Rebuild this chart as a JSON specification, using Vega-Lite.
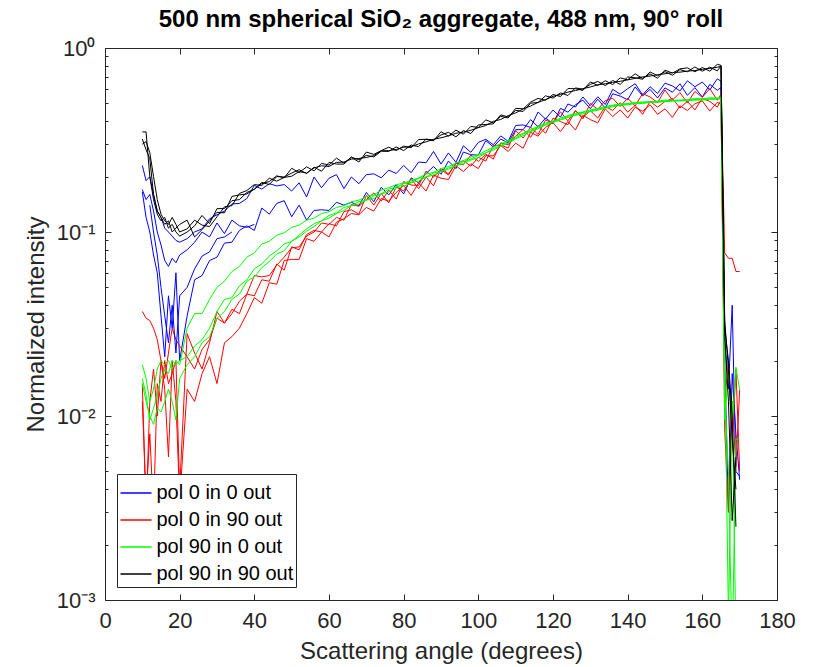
{
  "$schema": "https://vega.github.io/schema/vega-lite/v6.json",
  "width": 672,
  "height": 552,
  "autosize": {"type": "none"},
  "padding": {"left": 105, "top": 48, "right": 36, "bottom": 67},
  "background": "white",
  "title": {
    "text": "500 nm spherical SiO₂ aggregate, 488 nm, 90° roll",
    "font": "Liberation Sans",
    "fontSize": 24,
    "fontWeight": "bold",
    "color": "#000000",
    "anchor": "middle",
    "frame": "group",
    "baseline": "alphabetic",
    "offset": -14
  },
  "config": {
    "view": {"stroke": "#262626", "strokeWidth": 1},
    "axis": {
      "domain": false,
      "grid": false,
      "tickColor": "#262626",
      "tickWidth": 1,
      "labelColor": "#262626",
      "titleColor": "#262626",
      "labelFont": "Liberation Sans",
      "titleFont": "Liberation Sans",
      "labelFontSize": 22,
      "titleFontSize": 24,
      "titleFontWeight": "normal",
      "labelFlush": false,
      "labelOverlap": false
    }
  },
  "datasets": {
    "names": [
      {"k": "b1", "s": "pol 0 in 0 out"},
      {"k": "b2", "s": "pol 0 in 0 out"},
      {"k": "b3", "s": "pol 0 in 0 out"},
      {"k": "b4", "s": "pol 0 in 0 out"},
      {"k": "r1", "s": "pol 0 in 90 out"},
      {"k": "r2", "s": "pol 0 in 90 out"},
      {"k": "r3", "s": "pol 0 in 90 out"},
      {"k": "g1", "s": "pol 90 in 0 out"},
      {"k": "g2", "s": "pol 90 in 0 out"},
      {"k": "g3", "s": "pol 90 in 0 out"},
      {"k": "k1", "s": "pol 90 in 90 out"},
      {"k": "k2", "s": "pol 90 in 90 out"},
      {"k": "k3", "s": "pol 90 in 90 out"}
    ],
    "d": [
      {"x":10,"b1":0.23,"b2":0.17,"b3":0.165,"r1":0.037,"r2":0.015,"r3":0.012,"g1":0.019,"g2":0.016,"g3":0.015,"k1":0.35,"k2":0.32,"k3":0.30},
      {"x":11,"b1":0.19,"b2":0.15,"b3":0.12,"r1":0.034,"r2":0.003,"r3":0.0035,"g1":0.016,"g2":0.013,"g3":0.012,"k1":0.35,"k2":0.28,"k3":0.31},
      {"x":12,"b1":0.2,"b2":0.16,"b3":0.1,"b4":0.14,"r1":0.033,"r2":0.012,"r3":0.008,"g1":0.012,"g2":0.0095,"g3":0.01,"k1":0.2,"k2":0.25,"k3":0.27},
      {"x":13,"b1":0.16,"b2":0.13,"b3":0.075,"b4":0.1,"r1":0.03,"r2":0.018,"r3":0.003,"g1":0.014,"g2":0.011,"g3":0.009,"k1":0.15,"k2":0.16,"k3":0.2},
      {"x":14,"b1":0.13,"b2":0.1,"b3":0.06,"b4":0.075,"r1":0.026,"r2":0.01,"r3":0.015,"g1":0.018,"g2":0.013,"g3":0.011,"k1":0.125,"k2":0.13,"k3":0.15},
      {"x":15,"b1":0.12,"b2":0.085,"b3":0.035,"b4":0.05,"r1":0.02,"r2":0.02,"r3":0.012,"g1":0.02,"g2":0.016,"g3":0.0105,"k1":0.115,"k2":0.12,"k3":0.125},
      {"x":16,"b1":0.105,"b2":0.07,"b3":0.021,"b4":0.035,"r1":0.016,"r2":0.014,"r3":0.02,"g1":0.019,"g2":0.018,"g3":0.012,"k1":0.12,"k2":0.11,"k3":0.115},
      {"x":17,"b1":0.1,"b2":0.065,"b3":0.045,"b4":0.025,"r1":0.022,"r2":0.006,"r3":0.015,"g1":0.02,"g2":0.017,"g3":0.014,"k1":0.105,"k2":0.115,"k3":0.11},
      {"x":18,"b1":0.095,"b2":0.072,"b3":0.03,"b4":0.04,"r1":0.03,"r2":0.02,"r3":0.017,"g1":0.018,"g2":0.02,"g3":0.012,"k1":0.11,"k2":0.1,"k3":0.12},
      {"x":19,"b1":0.09,"b2":0.068,"b3":0.06,"b4":0.022,"r1":0.026,"r2":0.012,"r3":0.02,"g1":0.02,"g2":0.019,"g3":0.0095,"k1":0.1,"k2":0.105,"k3":0.11},
      {"x":20,"b1":0.088,"b2":0.075,"b3":0.02,"b4":0.045,"r1":0.024,"r2":0.0035,"r3":0.004,"g1":0.019,"g2":0.02,"g3":0.016,"k1":0.095,"k2":0.11,"k3":0.1},
      {"x":22,"b1":0.092,"b2":0.08,"b3":0.035,"b4":0.05,"r1":0.021,"r2":0.014,"r3":0.028,"g1":0.03,"g2":0.021,"g3":0.019,"k1":0.1,"k2":0.116,"k3":0.104},
      {"x":24,"b1":0.1,"b2":0.088,"b3":0.055,"b4":0.063,"r1":0.018,"r2":0.012,"r3":0.022,"g1":0.036,"g2":0.024,"g3":0.021,"k1":0.108,"k2":0.094,"k3":0.116},
      {"x":26,"b1":0.104,"b2":0.1,"b3":0.058,"b4":0.074,"r1":0.023,"r2":0.017,"r3":0.018,"g1":0.036,"g2":0.026,"g3":0.025,"k1":0.123,"k2":0.103,"k3":0.109},
      {"x":28,"b1":0.118,"b2":0.094,"b3":0.07,"b4":0.078,"r1":0.026,"r2":0.021,"r3":0.025,"g1":0.043,"g2":0.03,"g3":0.027,"k1":0.111,"k2":0.115,"k3":0.107},
      {"x":30,"b1":0.124,"b2":0.112,"b3":0.073,"b4":0.092,"r1":0.034,"r2":0.015,"r3":0.037,"g1":0.05,"g2":0.037,"g3":0.034,"k1":0.134,"k2":0.128,"k3":0.121},
      {"x":32,"b1":0.13,"b2":0.098,"b3":0.087,"b4":0.094,"r1":0.032,"r2":0.025,"r3":0.032,"g1":0.054,"g2":0.043,"g3":0.037,"k1":0.134,"k2":0.127,"k3":0.137},
      {"x":34,"b1":0.142,"b2":0.116,"b3":0.088,"b4":0.1,"r1":0.038,"r2":0.027,"r3":0.036,"g1":0.061,"g2":0.044,"g3":0.043,"k1":0.148,"k2":0.156,"k3":0.139},
      {"x":36,"b1":0.143,"b2":0.108,"b3":0.102,"r1":0.036,"r2":0.03,"r3":0.042,"g1":0.065,"g2":0.051,"g3":0.046,"k1":0.15,"k2":0.159,"k3":0.162},
      {"x":38,"b1":0.152,"b2":0.106,"b3":0.108,"r1":0.046,"r2":0.036,"r3":0.046,"g1":0.073,"g2":0.055,"g3":0.054,"k1":0.164,"k2":0.161,"k3":0.168},
      {"x":40,"b1":0.179,"b2":0.11,"b3":0.102,"r1":0.045,"r2":0.044,"r3":0.058,"g1":0.077,"g2":0.063,"g3":0.057,"k1":0.171,"k2":0.171,"k3":0.181},
      {"x":42,"b1":0.171,"b3":0.135,"r1":0.055,"r2":0.041,"r3":0.057,"g1":0.086,"g2":0.067,"g3":0.064,"k1":0.186,"k2":0.183,"k3":0.179},
      {"x":44,"b1":0.183,"b3":0.125,"r1":0.054,"r2":0.053,"r3":0.058,"g1":0.089,"g2":0.074,"g3":0.069,"k1":0.181,"k2":0.188,"k3":0.196},
      {"x":46,"b1":0.178,"b3":0.143,"r1":0.067,"r2":0.052,"r3":0.066,"g1":0.096,"g2":0.079,"g3":0.076,"k1":0.2,"k2":0.202,"k3":0.189},
      {"x":48,"b1":0.181,"b3":0.148,"r1":0.062,"r2":0.07,"r3":0.073,"g1":0.099,"g2":0.086,"g3":0.079,"k1":0.199,"k2":0.197,"k3":0.198},
      {"x":50,"b1":0.167,"b3":0.121,"r1":0.083,"r2":0.071,"r3":0.082,"g1":0.106,"g2":0.089,"g3":0.089,"k1":0.209,"k2":0.222,"k3":0.201},
      {"x":52,"b1":0.185,"b3":0.14,"r1":0.08,"r2":0.071,"r3":0.083,"g1":0.109,"g2":0.096,"g3":0.094,"k1":0.218,"k2":0.21,"k3":0.213},
      {"x":54,"b1":0.155,"b3":0.116,"r1":0.097,"r2":0.092,"r3":0.095,"g1":0.116,"g2":0.104,"g3":0.101,"k1":0.208,"k2":0.226,"k3":0.209},
      {"x":56,"b1":0.199,"b3":0.131,"r1":0.102,"r2":0.089,"r3":0.1,"g1":0.119,"g2":0.111,"g3":0.107,"k1":0.225,"k2":0.215,"k3":0.223},
      {"x":58,"b1":0.174,"b3":0.132,"r1":0.1,"r2":0.1,"r3":0.112,"g1":0.126,"g2":0.115,"g3":0.115,"k1":0.214,"k2":0.236,"k3":0.229},
      {"x":60,"b1":0.196,"b3":0.131,"r1":0.111,"r2":0.094,"r3":0.11,"g1":0.129,"g2":0.123,"g3":0.119,"k1":0.239,"k2":0.231,"k3":0.227},
      {"x":62,"b1":0.205,"b3":0.145,"r1":0.108,"r2":0.113,"r3":0.12,"g1":0.136,"g2":0.127,"g3":0.126,"k1":0.234,"k2":0.252,"k3":0.239},
      {"x":64,"b1":0.172,"b3":0.14,"r1":0.129,"r2":0.118,"r3":0.116,"g1":0.139,"g2":0.136,"g3":0.131,"k1":0.234,"k2":0.237,"k3":0.24},
      {"x":66,"b1":0.199,"b3":0.145,"r1":0.132,"r2":0.126,"r3":0.141,"g1":0.146,"g2":0.139,"g3":0.139,"k1":0.255,"k2":0.255,"k3":0.249},
      {"x":68,"b1":0.183,"b3":0.139,"r1":0.125,"r2":0.124,"r3":0.138,"g1":0.149,"g2":0.146,"g3":0.142,"k1":0.247,"k2":0.24,"k3":0.251},
      {"x":70,"b1":0.205,"b3":0.164,"r1":0.158,"r2":0.136,"r3":0.15,"g1":0.156,"g2":0.149,"g3":0.149,"k1":0.261,"k2":0.272,"k3":0.254},
      {"x":72,"b1":0.207,"b3":0.146,"r1":0.14,"r2":0.13,"r3":0.163,"g1":0.159,"g2":0.157,"g3":0.152,"k1":0.256,"k2":0.264,"k3":0.26},
      {"x":74,"b1":0.197,"b3":0.175,"r1":0.162,"r2":0.152,"r3":0.147,"g1":0.169,"g2":0.161,"g3":0.161,"k1":0.275,"k2":0.277,"k3":0.276},
      {"x":76,"b1":0.217,"b3":0.159,"r1":0.144,"r2":0.147,"r3":0.169,"g1":0.174,"g2":0.171,"g3":0.165,"k1":0.274,"k2":0.289,"k3":0.277},
      {"x":78,"b1":0.208,"b3":0.181,"r1":0.176,"r2":0.164,"r3":0.151,"g1":0.181,"g2":0.175,"g3":0.173,"k1":0.29,"k2":0.277,"k3":0.281},
      {"x":80,"b1":0.23,"b3":0.161,"r1":0.167,"r2":0.179,"r3":0.188,"g1":0.184,"g2":0.183,"g3":0.177,"k1":0.277,"k2":0.293,"k3":0.289},
      {"x":82,"b1":0.21,"b3":0.197,"r1":0.195,"r2":0.158,"r3":0.18,"g1":0.191,"g2":0.187,"g3":0.185,"k1":0.297,"k2":0.287,"k3":0.291},
      {"x":84,"b1":0.24,"b3":0.185,"r1":0.172,"r2":0.185,"r3":0.179,"g1":0.197,"g2":0.196,"g3":0.189,"k1":0.291,"k2":0.318,"k3":0.301},
      {"x":86,"b1":0.238,"b3":0.208,"r1":0.199,"r2":0.167,"r3":0.214,"g1":0.206,"g2":0.199,"g3":0.199,"k1":0.32,"k2":0.319,"k3":0.309},
      {"x":88,"b1":0.274,"b3":0.227,"r1":0.178,"r2":0.204,"r3":0.199,"g1":0.211,"g2":0.209,"g3":0.204,"k1":0.316,"k2":0.313,"k3":0.319},
      {"x":90,"b1":0.234,"b3":0.206,"r1":0.222,"r2":0.196,"r3":0.218,"g1":0.221,"g2":0.214,"g3":0.213,"k1":0.337,"k2":0.351,"k3":0.325},
      {"x":92,"b1":0.269,"b3":0.243,"r1":0.207,"r2":0.193,"r3":0.204,"g1":0.227,"g2":0.223,"g3":0.219,"k1":0.348,"k2":0.332,"k3":0.333},
      {"x":94,"b1":0.239,"b3":0.221,"r1":0.236,"r2":0.229,"r3":0.237,"g1":0.237,"g2":0.229,"g3":0.229,"k1":0.329,"k2":0.358,"k3":0.344},
      {"x":96,"b1":0.294,"b3":0.272,"r1":0.244,"r2":0.213,"r3":0.232,"g1":0.244,"g2":0.241,"g3":0.235,"k1":0.356,"k2":0.34,"k3":0.349},
      {"x":98,"b1":0.271,"b3":0.263,"r1":0.228,"r2":0.235,"r3":0.262,"g1":0.256,"g2":0.249,"g3":0.246,"k1":0.343,"k2":0.375,"k3":0.357},
      {"x":100,"b1":0.307,"b3":0.262,"r1":0.255,"r2":0.221,"r3":0.242,"g1":0.264,"g2":0.261,"g3":0.254,"k1":0.382,"k2":0.37,"k3":0.369},
      {"x":102,"b1":0.319,"b3":0.314,"r1":0.243,"r2":0.26,"r3":0.265,"g1":0.276,"g2":0.269,"g3":0.269,"k1":0.384,"k2":0.407,"k3":0.379},
      {"x":104,"b1":0.298,"b3":0.29,"r1":0.295,"r2":0.259,"r3":0.249,"g1":0.289,"g2":0.284,"g3":0.279,"k1":0.387,"k2":0.392,"k3":0.399},
      {"x":106,"b1":0.333,"b3":0.32,"r1":0.297,"r2":0.295,"r3":0.305,"g1":0.301,"g2":0.294,"g3":0.293,"k1":0.433,"k2":0.425,"k3":0.409},
      {"x":108,"b1":0.311,"b3":0.305,"r1":0.286,"r2":0.274,"r3":0.298,"g1":0.314,"g2":0.311,"g3":0.304,"k1":0.422,"k2":0.417,"k3":0.429},
      {"x":110,"b1":0.379,"b3":0.36,"r1":0.356,"r2":0.304,"r3":0.332,"g1":0.331,"g2":0.324,"g3":0.321,"k1":0.458,"k2":0.47,"k3":0.444},
      {"x":112,"b1":0.382,"b3":0.36,"r1":0.324,"r2":0.285,"r3":0.361,"g1":0.344,"g2":0.341,"g3":0.334,"k1":0.452,"k2":0.467,"k3":0.466},
      {"x":114,"b1":0.37,"b3":0.408,"r1":0.371,"r2":0.348,"r3":0.327,"g1":0.361,"g2":0.354,"g3":0.351,"k1":0.501,"k2":0.508,"k3":0.484},
      {"x":116,"b1":0.449,"b3":0.373,"r1":0.339,"r2":0.332,"r3":0.378,"g1":0.374,"g2":0.371,"g3":0.364,"k1":0.506,"k2":0.532,"k3":0.506},
      {"x":118,"b1":0.411,"b3":0.416,"r1":0.406,"r2":0.371,"r3":0.344,"g1":0.391,"g2":0.384,"g3":0.381,"k1":0.55,"k2":0.52,"k3":0.524},
      {"x":120,"b1":0.46,"b3":0.389,"r1":0.39,"r2":0.393,"r3":0.416,"g1":0.399,"g2":0.401,"g3":0.394,"k1":0.534,"k2":0.559,"k3":0.546},
      {"x":122,"b1":0.421,"b3":0.47,"r1":0.45,"r2":0.351,"r3":0.398,"g1":0.416,"g2":0.409,"g3":0.406,"k1":0.57,"k2":0.545,"k3":0.559},
      {"x":124,"b1":0.496,"b3":0.448,"r1":0.402,"r2":0.399,"r3":0.383,"g1":0.429,"g2":0.426,"g3":0.419,"k1":0.552,"k2":0.602,"k3":0.576},
      {"x":126,"b1":0.478,"b3":0.491,"r1":0.456,"r2":0.358,"r3":0.456,"g1":0.441,"g2":0.434,"g3":0.431,"k1":0.607,"k2":0.601,"k3":0.587},
      {"x":128,"b1":0.542,"b3":0.521,"r1":0.412,"r2":0.431,"r3":0.42,"g1":0.449,"g2":0.446,"g3":0.439,"k1":0.597,"k2":0.588,"k3":0.601},
      {"x":130,"b1":0.487,"b3":0.468,"r1":0.5,"r2":0.408,"r3":0.456,"g1":0.461,"g2":0.454,"g3":0.451,"k1":0.634,"k2":0.654,"k3":0.614},
      {"x":132,"b1":0.543,"b3":0.527,"r1":0.464,"r2":0.392,"r3":0.416,"g1":0.469,"g2":0.466,"g3":0.459,"k1":0.658,"k2":0.626,"k3":0.631},
      {"x":134,"b1":0.493,"b3":0.471,"r1":0.517,"r2":0.467,"r3":0.481,"g1":0.481,"g2":0.474,"g3":0.471,"k1":0.625,"k2":0.664,"k3":0.639},
      {"x":136,"b1":0.596,"b3":0.564,"r1":0.533,"r2":0.424,"r3":0.458,"g1":0.489,"g2":0.486,"g3":0.479,"k1":0.666,"k2":0.633,"k3":0.651},
      {"x":138,"b1":0.561,"b3":0.548,"r1":0.481,"r2":0.461,"r3":0.505,"g1":0.496,"g2":0.489,"g3":0.489,"k1":0.634,"k2":0.688,"k3":0.659},
      {"x":140,"b1":0.601,"b3":0.523,"r1":0.534,"r2":0.416,"r3":0.448,"g1":0.499,"g2":0.496,"g3":0.491,"k1":0.696,"k2":0.672,"k3":0.671},
      {"x":142,"b1":0.64,"b3":0.614,"r1":0.484,"r2":0.476,"r3":0.488,"g1":0.506,"g2":0.499,"g3":0.499,"k1":0.689,"k2":0.724,"k3":0.684},
      {"x":144,"b1":0.556,"b3":0.549,"r1":0.565,"r2":0.453,"r3":0.436,"g1":0.509,"g2":0.506,"g3":0.499,"k1":0.676,"k2":0.683,"k3":0.696},
      {"x":146,"b1":0.616,"b3":0.596,"r1":0.542,"r2":0.492,"r3":0.512,"g1":0.511,"g2":0.507,"g3":0.506,"k1":0.741,"k2":0.723,"k3":0.704},
      {"x":148,"b1":0.566,"b3":0.535,"r1":0.505,"r2":0.436,"r3":0.477,"g1":0.514,"g2":0.511,"g3":0.507,"k1":0.707,"k2":0.685,"k3":0.716},
      {"x":150,"b1":0.644,"b3":0.607,"r1":0.591,"r2":0.467,"r3":0.512,"g1":0.521,"g2":0.514,"g3":0.511,"k1":0.744,"k2":0.758,"k3":0.724},
      {"x":152,"b1":0.622,"b3":0.575,"r1":0.521,"r2":0.42,"r3":0.532,"g1":0.519,"g2":0.519,"g3":0.514,"k1":0.711,"k2":0.73,"k3":0.736},
      {"x":154,"b1":0.584,"b3":0.639,"r1":0.572,"r2":0.485,"r3":0.472,"g1":0.521,"g2":0.519,"g3":0.516,"k1":0.763,"k2":0.77,"k3":0.739},
      {"x":156,"b1":0.663,"b3":0.553,"r1":0.504,"r2":0.458,"r3":0.513,"g1":0.524,"g2":0.523,"g3":0.517,"k1":0.743,"k2":0.78,"k3":0.749},
      {"x":158,"b1":0.616,"b3":0.609,"r1":0.58,"r2":0.497,"r3":0.461,"g1":0.531,"g2":0.524,"g3":0.521,"k1":0.789,"k2":0.743,"k3":0.754},
      {"x":160,"b1":0.653,"b3":0.542,"r1":0.539,"r2":0.516,"r3":0.533,"g1":0.529,"g2":0.529,"g3":0.521,"k1":0.748,"k2":0.783,"k3":0.766},
      {"x":162,"b1":0.591,"b3":0.634,"r1":0.602,"r2":0.454,"r3":0.512,"g1":0.536,"g2":0.529,"g3":0.526,"k1":0.787,"k2":0.748,"k3":0.774},
      {"x":164,"b1":0.68,"b3":0.589,"r1":0.52,"r2":0.507,"r3":0.477,"g1":0.534,"g2":0.533,"g3":0.527,"k1":0.751,"k2":0.815,"k3":0.786},
      {"x":165,"b1":0.66,"b3":0.61,"r1":0.56,"r2":0.495,"r3":0.52,"g1":0.54,"g2":0.535,"g3":0.53,"k1":0.8,"k2":0.805,"k3":0.795},
      {"x":166,"b1":0.026,"b3":0.02,"r1":0.077,"r2":0.0084,"r3":0.012,"g1":0.0095,"g2":0.013,"g3":0.02,"k1":0.033,"k2":0.027,"k3":0.03},
      {"x":167,"b1":0.014,"b3":0.003,"r1":0.072,"r2":0.003,"r3":0.02,"g1":0.018,"g2":0.005,"g3":0.0008,"k1":0.018,"k2":0.012,"k3":0.02},
      {"x":168,"b1":0.04,"b3":0.017,"r1":0.072,"r2":0.012,"r3":0.007,"g1":0.0087,"g2":0.0005,"g3":0.012,"k1":0.0075,"k2":0.0027,"k3":0.01},
      {"x":169,"b1":0.005,"b3":0.008,"r1":0.061,"r2":0.0053,"r3":0.018,"g1":0.0184,"g2":0.0075,"g3":0.0006,"k1":0.004,"k2":0.006,"k3":0.0025},
      {"x":170,"b1":0.0047,"b3":0.0045,"r1":0.061,"r2":0.0139,"r3":0.005,"g1":0.0139,"g2":0.0075,"g3":0.0004}
    ],
    "pt": [{"x": 0, "v": 0.01}]
  },
  "resolve": {"axis": {"x": "independent", "y": "independent"}},
  "layer": [
    {
      "data": {"name": "d"},
      "transform": [
        {"fold": ["b1","b2","b3","b4","r1","r2","r3","g1","g2","g3","k1","k2","k3"], "as": ["k","v"]},
        {"filter": "isValid(datum.v)"},
        {"lookup": "k", "from": {"data": {"name": "names"}, "key": "k", "fields": ["s"]}}
      ],
      "mark": {"type": "line", "strokeWidth": 1, "clip": true},
      "encoding": {
        "x": {
          "field": "x", "type": "quantitative",
          "scale": {"domain": [0, 180]},
          "axis": {
            "orient": "bottom",
            "values": [0,20,40,60,80,100,120,140,160,180],
            "tickSize": -6,
            "labelPadding": 16,
            "title": "Scattering angle (degrees)",
            "titlePadding": 8
          }
        },
        "y": {
          "field": "v", "type": "quantitative",
          "scale": {"type": "log", "domain": [0.001, 1]},
          "axis": {
            "orient": "left",
            "values": [0.001, 0.01, 0.1, 1],
            "tickSize": -6,
            "labelPadding": 16,
            "labelExpr": "datum.value >= 0.99 ? '10⁰' : datum.value >= 0.099 ? '10⁻¹' : datum.value >= 0.0099 ? '10⁻²' : '10⁻³'",
            "title": "Normalized intensity",
            "titlePadding": 8
          }
        },
        "color": {
          "field": "s", "type": "nominal",
          "scale": {
            "domain": ["pol 0 in 0 out", "pol 0 in 90 out", "pol 90 in 0 out", "pol 90 in 90 out"],
            "range": ["#0000ff", "#ff0000", "#00ff00", "#000000"]
          },
          "legend": {
            "title": null,
            "orient": "none",
            "legendX": 12,
            "legendY": 426,
            "symbolType": "stroke",
            "symbolSize": 961,
            "symbolStrokeWidth": 1.5,
            "labelFont": "Liberation Sans",
            "labelFontSize": 20,
            "labelColor": "#000000",
            "labelOffset": 4,
            "padding": 2.5,
            "rowPadding": -2,
            "fillColor": "#ffffff",
            "strokeColor": "#262626"
          }
        },
        "detail": {"field": "k", "type": "nominal"}
      }
    },
    {
      "data": {"name": "pt"},
      "mark": {"type": "point", "opacity": 0},
      "encoding": {
        "x": {"field": "x", "type": "quantitative", "scale": {"domain": [0, 180]},
          "axis": {"orient": "top", "values": [0,20,40,60,80,100,120,140,160,180], "tickSize": -6, "labels": false, "title": null}},
        "y": {"field": "v", "type": "quantitative", "scale": {"type": "log", "domain": [0.001, 1]},
          "axis": {"orient": "right", "values": [0.001, 0.01, 0.1, 1], "tickSize": -6, "labels": false, "title": null}}
      }
    },
    {
      "data": {"name": "pt"},
      "mark": {"type": "point", "opacity": 0},
      "encoding": {
        "x": {"field": "x", "type": "quantitative", "scale": {"domain": [0, 180]}, "axis": null},
        "y": {"field": "v", "type": "quantitative", "scale": {"type": "log", "domain": [0.001, 1]},
          "axis": {"orient": "left", "values": [0.002,0.003,0.004,0.005,0.006,0.007,0.008,0.009,0.02,0.03,0.04,0.05,0.06,0.07,0.08,0.09,0.2,0.3,0.4,0.5,0.6,0.7,0.8,0.9], "tickSize": -3, "labels": false, "title": null}}
      }
    },
    {
      "data": {"name": "pt"},
      "mark": {"type": "point", "opacity": 0},
      "encoding": {
        "x": {"field": "x", "type": "quantitative", "scale": {"domain": [0, 180]}, "axis": null},
        "y": {"field": "v", "type": "quantitative", "scale": {"type": "log", "domain": [0.001, 1]},
          "axis": {"orient": "right", "values": [0.002,0.003,0.004,0.005,0.006,0.007,0.008,0.009,0.02,0.03,0.04,0.05,0.06,0.07,0.08,0.09,0.2,0.3,0.4,0.5,0.6,0.7,0.8,0.9], "tickSize": -3, "labels": false, "title": null}}
      }
    }
  ]
}
